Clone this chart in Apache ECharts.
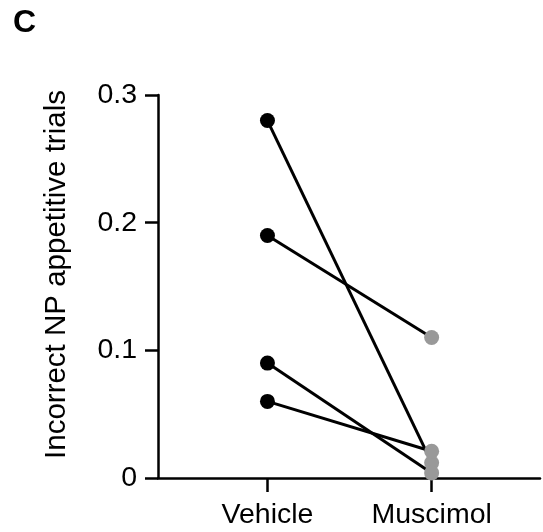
<!DOCTYPE html>
<html>
<head>
<meta charset="utf-8">
<script src="https://cdn.jsdelivr.net/npm/echarts@6/dist/echarts.min.js"></script>
<style>
html,body{margin:0;padding:0;background:#fff;}
#c{width:543px;height:532px;}
</style>
</head>
<body>
<div id="c"></div>
<script>
const categories = ['Vehicle', 'Muscimol'];
const vehicle = [0.28, 0.19, 0.09, 0.06];
const muscimol = [0.012, 0.11, 0.004, 0.021];
const yTicks = [0, 0.1, 0.2, 0.3];
const yTitle = 'Incorrect NP appetitive trials';
const panelLabel = 'C';

const FONT = 'Liberation Sans, Arial, sans-serif';
const chart = echarts.init(document.getElementById('c'), null, {renderer: 'canvas'});

const lineSeries = vehicle.map((v, i) => ({
  type: 'line',
  data: [[1, v], [2, muscimol[i]]],
  symbol: 'none',
  lineStyle: {color: '#000', width: 3},
  z: 2,
  silent: true
}));

chart.setOption({
  animation: false,
  backgroundColor: '#fff',
  title: {
    text: panelLabel, left: 8, top: 2,
    textStyle: {fontFamily: FONT, fontSize: 32, fontWeight: 'bold', color: '#000'}
  },
  grid: {left: 158, right: 3, top: 95, bottom: 54, containLabel: false},
  xAxis: {
    type: 'value', min: 1/3, max: 2.66,
    splitLine: {show: false},
    axisLine: {lineStyle: {color: '#000', width: 2.5}},
    axisTick: {show: true, length: 14, lineStyle: {color: '#000', width: 2.5}, customValues: [1, 2]},
    axisLabel: {
      customValues: [1, 2],
      formatter: v => categories[Math.round(v) - 1] || '',
      margin: 23, color: '#000', fontFamily: FONT, fontSize: 28.5
    }
  },
  yAxis: {
    type: 'value', min: 0, max: 0.3, interval: 0.1,
    splitLine: {show: false},
    axisLine: {show: true, lineStyle: {color: '#000', width: 2.5}},
    axisTick: {show: true, length: 13, lineStyle: {color: '#000', width: 2.5}},
    axisLabel: {
      formatter: v => { const t = yTicks.find(x => Math.abs(x - v) < 1e-6); return t === 0 ? '0' : String(t); },
      margin: 21, color: '#000', fontFamily: FONT, fontSize: 28.5
    },
    name: yTitle,
    nameLocation: 'middle',
    nameGap: 86,
    nameTextStyle: {fontFamily: FONT, fontSize: 29.5, color: '#000', padding: [0, 0, 0, 24]}
  },
  series: lineSeries.concat([
    {
      type: 'scatter',
      data: vehicle.map(v => [1, v]),
      symbolSize: 15,
      itemStyle: {color: '#000', opacity: 1},
      z: 5
    },
    {
      type: 'scatter',
      data: muscimol.map(v => [2, v]),
      symbolSize: 15,
      itemStyle: {color: '#999999', opacity: 1},
      z: 5
    }
  ])
});
</script>
</body>
</html>
